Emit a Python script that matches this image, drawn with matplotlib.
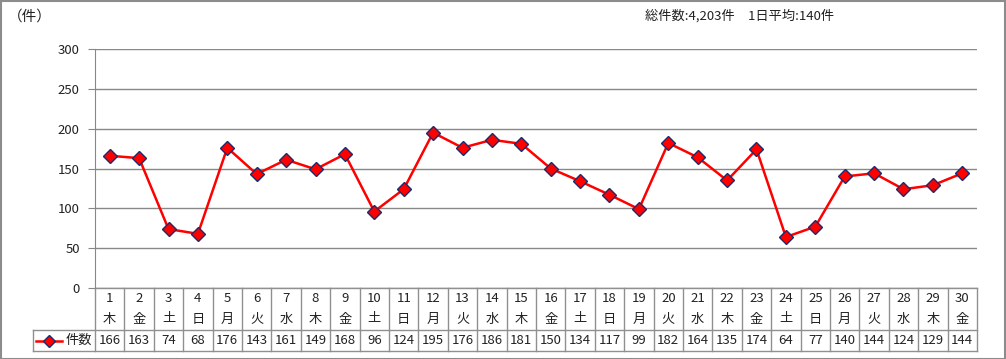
import matplotlib
matplotlib.use("Agg")
import matplotlib.pyplot as plt
from matplotlib.transforms import blended_transform_factory
from matplotlib.patches import Rectangle
from matplotlib.lines import Line2D

plt.rcParams['font.family'] = ['Noto Sans CJK JP', 'DejaVu Sans']

days = list(range(1, 31))
weekdays = ["木", "金", "土", "日", "月", "火", "水", "木", "金", "土",
            "日", "月", "火", "水", "木", "金", "土", "日", "月", "火",
            "水", "木", "金", "土", "日", "月", "火", "水", "木", "金"]
counts = [166, 163, 74, 68, 176, 143, 161, 149, 168, 96,
          124, 195, 176, 186, 181, 150, 134, 117, 99, 182,
          164, 135, 174, 64, 77, 140, 144, 124, 129, 144]
series_name = "件数"
yticks = [0, 50, 100, 150, 200, 250, 300]
header = "総件数:4,203件　1日平均:140件"
unit = "（件）"

W, H = 1006, 359
fig = plt.figure(figsize=(W / 100, H / 100), dpi=100)
fig.patches.append(Rectangle((0.5 / W, 0.5 / H), 1 - 1.5 / W, 1 - 1.5 / H,
                             transform=fig.transFigure, fill=False,
                             edgecolor="#8c8c8c", linewidth=1.5))

left, right, top, bottom = 95, 977, 49, 288
ax = fig.add_axes([left / W, 1 - bottom / H, (right - left) / W, (bottom - top) / H])
ax.set_xlim(0.5, 30.5)
ax.set_ylim(0, 300)
ax.set_yticks(yticks)
ax.tick_params(axis='y', direction='out', length=5, color="#888888", labelsize=9.5,
               labelcolor="#222222", pad=6)
ax.set_xticks([])
for s in ["top", "right", "bottom"]:
    ax.spines[s].set_visible(False)
ax.spines["left"].set_color("#888888")
ax.grid(axis='y', color="#888888", linewidth=1)
ax.set_axisbelow(True)

ax.plot(days, counts, color="#ff0000", linewidth=1.8, marker="D", markersize=7.5,
        markerfacecolor="#ff0000", markeredgecolor="#1f2a6b", markeredgewidth=1.0,
        zorder=3)

# data table
tr = blended_transform_factory(ax.transData, ax.transAxes)
axh = bottom - top
r1 = -(330 - bottom) / axh
r2 = -(351 - bottom) / axh
colw = (right - left) / 30
leg_left = 0.5 - (left - 33) / colw
lc = "#909090"
lw = 1.0
def hline(x0, x1, y):
    ax.add_line(Line2D([x0, x1], [y, y], transform=tr, color=lc, linewidth=lw, clip_on=False))
def vline(x, y0, y1):
    ax.add_line(Line2D([x, x], [y0, y1], transform=tr, color=lc, linewidth=lw, clip_on=False))

hline(0.5, 30.5, 0)
hline(leg_left, 30.5, r1)
hline(leg_left, 30.5, r2)
for i in range(31):
    vline(0.5 + i, 0, r2)
vline(leg_left, r1, r2)

for d, wd, c in zip(days, weekdays, counts):
    ax.text(d, -(298 - bottom) / axh, str(d), transform=tr, ha='center', va='center',
            fontsize=9.5, color="#222222")
    ax.text(d, -(319 - bottom) / axh, wd, transform=tr, ha='center', va='center',
            fontsize=9.5, color="#222222")
    ax.text(d, (r1 + r2) / 2, str(c), transform=tr, ha='center', va='center',
            fontsize=9.5, color="#222222")

# legend in table
ym = (r1 + r2) / 2
lx0 = 0.5 - (left - 36) / colw
lx1 = 0.5 - (left - 62) / colw
ax.add_line(Line2D([lx0, lx1], [ym, ym], transform=tr, color="#ff0000", linewidth=1.8,
                   clip_on=False))
ax.add_line(Line2D([(lx0 + lx1) / 2], [ym], transform=tr, marker="D", markersize=6,
                   markerfacecolor="#ff0000", markeredgecolor="#1f2a6b",
                   markeredgewidth=1.0, clip_on=False))
ax.text(0.5 - (left - 66) / colw, ym, series_name, transform=tr, ha='left', va='center',
        fontsize=9.5, color="#222222")

fig.text(8 / W, 1 - 17 / H, unit, ha='left', va='center', fontsize=10.5, color="#222222")
fig.text(645 / W, 1 - 16 / H, header, ha='left', va='center', fontsize=9.5, color="#222222")

fig.savefig("out.png", dpi=100)
